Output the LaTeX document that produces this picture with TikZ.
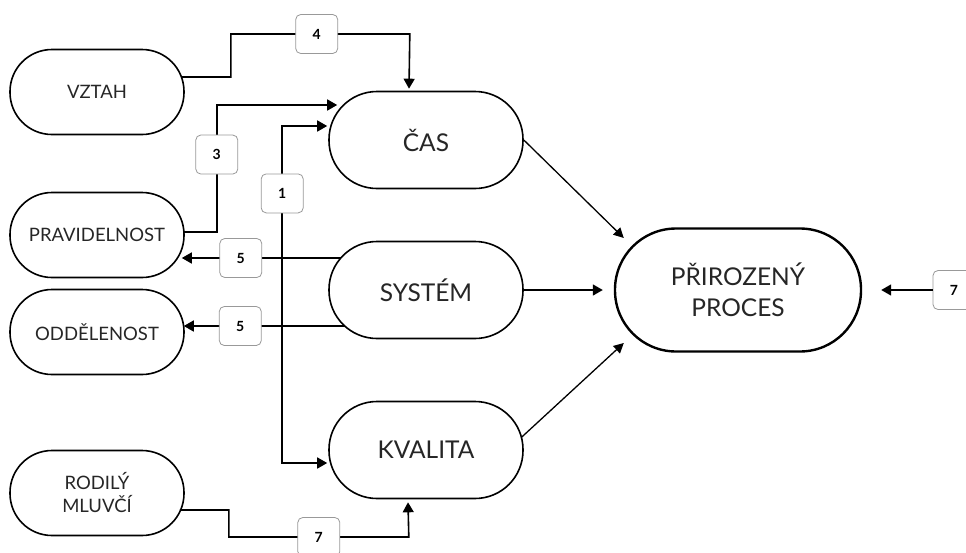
\documentclass[tikz,border=0pt]{standalone}
\usepackage{fontspec}
\setmainfont{Lato}
\usetikzlibrary{arrows.meta,calc}

\begin{document}
\begin{tikzpicture}[x=1pt,y=-1pt,
		pojem/.style={draw,line width=1.6pt,rounded corners=42pt,minimum width=174pt,minimum height=85pt,inner sep=0pt,align=center,text=black!85,font=\fontsize{18.5}{23}\selectfont},
		hlavni/.style={draw,line width=1.6pt,rounded corners=48pt,minimum width=194pt,minimum height=97pt,inner sep=0pt,align=center,text=black!85,font=\fontsize{24.5}{31}\selectfont},
		cil/.style={hlavni,line width=2.4pt,rounded corners=61pt,minimum width=246pt,minimum height=123pt},
		cislo/.style={draw=black!40,fill=white,line width=0.8pt,rounded corners=5pt,minimum width=42pt,minimum height=39pt,inner sep=0pt,font=\fontsize{14}{16}\selectfont\bfseries},
		sipka/.style={line width=1.6pt,-{Triangle[length=10pt,width=11pt]}},
		tenka/.style={line width=1.3pt,-{Triangle[length=10pt,width=10pt]}}]
	\useasboundingbox (0,0) rectangle (966,552);
	\node[pojem] (vztah) at (97,92) {VZTAH};
	\node[pojem] (prav) at (97,235) {PRAVIDELNOST};
	\node[pojem] (odd) at (97,332) {ODDĚLENOST};
	\node[pojem] (rodily) at (97,493) {RODILÝ\\MLUVČÍ};
	\node[hlavni] (cas) at (426,140) {ČAS};
	\node[hlavni] (system) at (426,290) {SYSTÉM};
	\node[hlavni] (kvalita) at (426,450) {KVALITA};
	\node[cil] (proces) at (738,290) {PŘIROZENÝ\\PROCES};
	\node[cislo] (l7) at (954,290) {7};
	\draw[sipka] ($(vztah.east)+(-3,-15)$) -- ++(49,0) -- ++(0,-43) -- node[cislo,pos=0.48]{4} ++(179,0) -- ($(cas.north)+(-17,-2)$);
	\draw[sipka] ($(prav.east)+(-2,-3)$) -- ++(34,0) -- node[cislo,pos=0.61]{3} ++(0,-127) -- ($(cas.west)+(9,-35)$);
	\draw[line width=1.6pt,{Triangle[length=10pt,width=11pt]}-{Triangle[length=10pt,width=11pt]}] ($(cas.west)+(-1,-14)$) -- ++(-45,0) -- node[cislo,pos=0.2]{1} ++(0,337) -- ($(kvalita.west)+(-1,13)$);
	\draw[sipka] ($(system.west)+(13,-32)$) -- node[cislo,pos=0.63]{5} ($(prav.east)+(-3,23)$);
	\draw[sipka] ($(system.west)+(17,36)$) -- node[cislo,pos=0.65]{5} ($(odd.east)+(-1,-6)$);
	\draw[sipka] ($(rodily.east)+(-5,17)$) -- ++(49,0) -- ++(0,27) -- node[cislo]{7} ++(180,0) -- ($(kvalita.south)+(-18,3)$);
	\draw[tenka] (cas.east) -- ($(proces.west)+(10,-52)$);
	\draw[sipka] (system.east) -- ($(proces.west)+(-11,0)$);
	\draw[tenka] ($(kvalita.east)+(-2,-13)$) -- ($(proces.west)+(10,53)$);
	\draw[sipka] (l7) -- ($(proces.east)+(19,0)$);
\end{tikzpicture}
\end{document}
